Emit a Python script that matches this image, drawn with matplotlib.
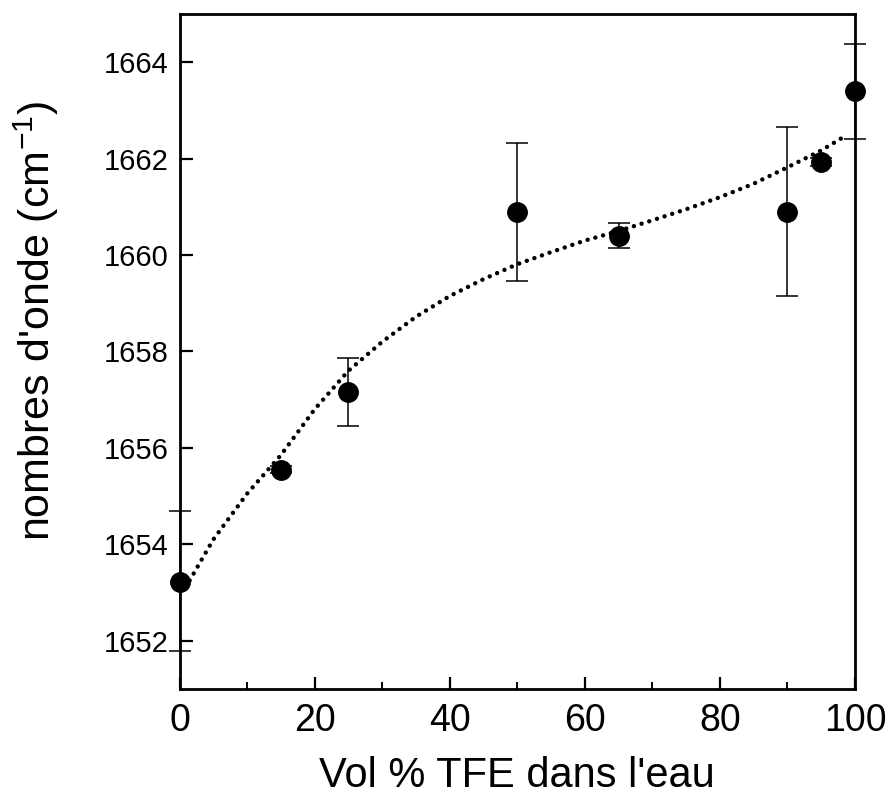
"""Wavenumber of amide I band versus TFE volume fraction."""

import matplotlib as mpl
import matplotlib.pyplot as plt
from matplotlib.ticker import MultipleLocator

# measured points
vol_tfe = [0, 15, 25, 50, 65, 90, 95, 100]
wavenumber = [1653.22, 1655.55, 1657.16, 1660.89, 1660.39, 1660.89, 1661.93, 1663.40]
err_up = [1654.69, 1655.63, 1657.87, 1662.32, 1660.66, 1662.65, 1662.01, 1664.37]
err_low = [1651.79, 1655.47, 1656.46, 1659.46, 1660.15, 1659.15, 1661.85, 1662.40]

# dotted fitted curve
fit_x = [1.5, 5, 10, 15, 20, 25, 30, 35, 40, 45, 50, 55, 60, 65, 70, 75, 80, 85, 90, 95, 98.8]
fit_y = [1653.25, 1654.1, 1655.05, 1655.85, 1656.8, 1657.6, 1658.2, 1658.72, 1659.15,
         1659.5, 1659.81, 1660.06, 1660.3, 1660.5, 1660.72, 1660.95, 1661.2, 1661.48,
         1661.82, 1662.17, 1662.49]

mpl.rcParams.update({
    "font.family": ["Liberation Sans", "DejaVu Sans"],
    "axes.linewidth": 2.0,
})

fig = plt.figure(figsize=(8.9, 7.99), dpi=100)
ax = fig.add_axes([0.2017, 0.1377, 0.7590, 0.8448])

yerr = [[w - lo for w, lo in zip(wavenumber, err_low)],
        [hi - w for w, hi in zip(wavenumber, err_up)]]
ax.errorbar(vol_tfe, wavenumber, yerr=yerr, fmt="o", color="black", markersize=14,
            ecolor="black", elinewidth=1.1, capsize=8, capthick=1.1, clip_on=False, zorder=3)
ax.plot(fit_x, fit_y, color="black", linewidth=3.2, linestyle=(0, (0.01, 1.8)),
        dash_capstyle="round", zorder=2)

ax.set_xlim(0, 100)
ax.set_ylim(1651, 1665)
ax.xaxis.set_major_locator(MultipleLocator(20))
ax.xaxis.set_minor_locator(MultipleLocator(10))
ax.yaxis.set_major_locator(MultipleLocator(2))
ax.tick_params(axis="both", which="major", direction="in", length=9, width=1.6)
ax.tick_params(axis="x", which="minor", direction="in", length=5, width=1.4)
ax.tick_params(axis="x", labelsize=27, pad=10)
ax.tick_params(axis="y", labelsize=21, pad=8)

ax.set_xlabel("Vol % TFE dans l'eau", fontsize=30, labelpad=12)
ax.set_ylabel("nombres d'onde (cm$^{\\mathregular{-1}}$)", fontsize=31)
ax.yaxis.set_label_coords(-0.175, 0.545)

fig.savefig("out.png", dpi=100)
